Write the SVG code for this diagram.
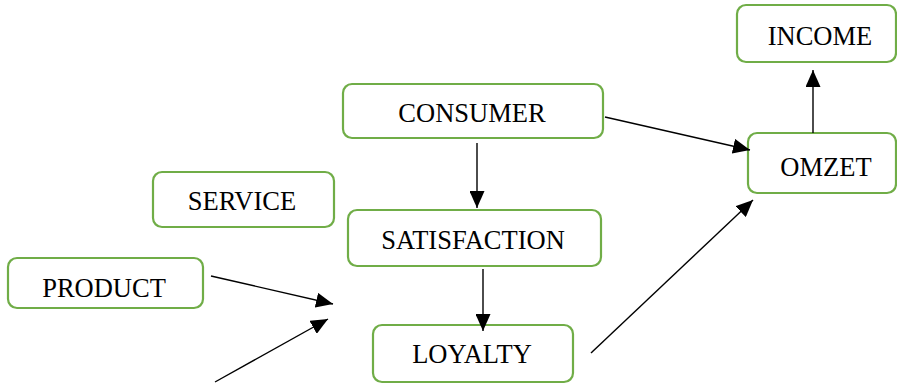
<svg xmlns="http://www.w3.org/2000/svg" width="897" height="385" viewBox="0 0 897 385">
<style>
.box{fill:#ffffff;stroke:#70AD47;stroke-width:2.2}
.lbl{font-family:"Liberation Serif","Times New Roman",serif;font-size:26.5px;fill:#000;text-anchor:middle}
.con{stroke:#000;stroke-width:1.4;fill:none;marker-end:url(#ah)}
</style>
<defs>
<marker id="ah" markerUnits="userSpaceOnUse" markerWidth="18" markerHeight="15" refX="17" refY="7.5" orient="auto">
<path d="M0,0 L17,7.5 L0,15 Z" fill="#000"/>
</marker>
</defs>
<rect width="897" height="385" fill="#fff"/>
<g id="income"><rect class="box" x="737" y="5" width="159" height="57" rx="9"/><text class="lbl" x="820" y="45">INCOME</text></g>
<g id="consumer"><rect class="box" x="343" y="84" width="260" height="54" rx="9"/><text class="lbl" x="472" y="122">CONSUMER</text></g>
<g id="omzet"><rect class="box" x="748" y="133" width="148" height="60" rx="9"/><text class="lbl" x="826" y="176">OMZET</text></g>
<g id="service"><rect class="box" x="153" y="172" width="181" height="55" rx="9"/><text class="lbl" x="242" y="210">SERVICE</text></g>
<g id="satisfaction"><rect class="box" x="348" y="210" width="253" height="56" rx="9"/><text class="lbl" x="473" y="249">SATISFACTION</text></g>
<g id="product"><rect class="box" x="8" y="258" width="195" height="50" rx="9"/><text class="lbl" x="104" y="297">PRODUCT</text></g>
<g id="loyalty"><rect class="box" x="373" y="325" width="200" height="57" rx="9"/><text class="lbl" x="472" y="363">LOYALTY</text></g>
<g id="connectors">
<line class="con" x1="813" y1="133" x2="813" y2="70"/>
<line class="con" x1="605" y1="117" x2="750" y2="150"/>
<line class="con" x1="477" y1="143" x2="477" y2="208"/>
<line class="con" x1="483" y1="269" x2="483" y2="331"/>
<line class="con" x1="591" y1="353" x2="753" y2="200"/>
<line class="con" x1="211" y1="276" x2="333" y2="304"/>
<line class="con" x1="215" y1="382" x2="328" y2="319"/>
</g>
</svg>
